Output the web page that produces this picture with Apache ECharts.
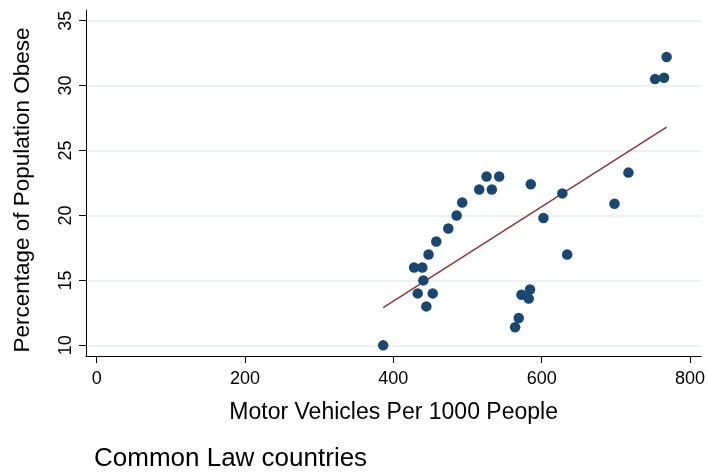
<!DOCTYPE html>
<html>
<head>
<meta charset="utf-8">
<script src="https://cdn.jsdelivr.net/npm/echarts@6/dist/echarts.min.js"></script>
<style>
html,body{margin:0;padding:0;background:#fff;}
#chart{width:708px;height:474px;}
</style>
</head>
<body>
<div id="chart"></div>
<script>
// Motor vehicles per 1000 people (x) and percentage of population obese (y)
const vehicles = [386.3, 428.0, 439.1, 440.5, 432.9, 453.1, 444.5, 447.5, 457.9, 474.1,
  485.4, 492.9, 515.8, 525.7, 532.8, 542.7, 564.2, 569.1, 572.8, 582.6,
  584.3, 585.3, 602.4, 627.9, 634.4, 698.2, 717.0, 752.9, 765.0, 768.5];
const obese = [10.0, 16.0, 16.0, 15.0, 14.0, 14.0, 13.0, 17.0, 18.0, 19.0,
  20.0, 21.0, 22.0, 23.0, 22.0, 23.0, 11.4, 12.1, 13.9, 13.6,
  14.3, 22.4, 19.8, 21.7, 17.0, 20.9, 23.3, 30.5, 30.6, 32.2];
// Fitted line endpoints
const fitX = [386.3, 768.5];
const fitY = [12.9, 26.8];
const xTicks = [0, 200, 400, 600, 800];
const yTicks = [10, 15, 20, 25, 30, 35];
const xTitle = 'Motor Vehicles Per 1000 People';
const yTitle = 'Percentage of Population Obese';
const noteText = 'Common Law countries';

const points = vehicles.map((v, i) => [v, obese[i]]);
const fit = fitX.map((v, i) => [v, fitY[i]]);
const font = '"Liberation Sans", Arial, Helvetica, sans-serif';

const chart = echarts.init(document.getElementById('chart'), null, {renderer: 'canvas'});
chart.setOption({
  animation: false,
  backgroundColor: '#ffffff',
  title: {
    text: noteText,
    left: 94, top: 446, padding: 0,
    textStyle: {fontFamily: font, fontSize: 26, fontWeight: 'normal', color: '#000'}
  },
  grid: {left: 86, right: 5, top: 10, bottom: 118, containLabel: false},
  xAxis: {
    type: 'value',
    min: -14.4, max: 815.2,
    name: xTitle, nameLocation: 'middle', nameGap: 45,
    nameTextStyle: {fontFamily: font, fontSize: 23, color: '#000'},
    axisLine: {show: true, onZero: false, lineStyle: {color: '#000', width: 1}},
    axisTick: {show: true, length: 7, customValues: xTicks, lineStyle: {color: '#000'}},
    axisLabel: {customValues: xTicks, fontFamily: font, fontSize: 18, color: '#000', margin: 14},
    splitLine: {show: false}
  },
  yAxis: {
    type: 'value',
    min: 9.18, max: 35.82,
    name: yTitle, nameLocation: 'middle', nameGap: 52,
    nameTextStyle: {fontFamily: font, fontSize: 22.5, color: '#000', padding: [0, 14, 0, 0]},
    axisLine: {show: true, onZero: false, lineStyle: {color: '#000', width: 1}},
    axisTick: {show: true, length: 7, customValues: yTicks, lineStyle: {color: '#000'}},
    axisLabel: {customValues: yTicks, rotate: 90, fontFamily: font, fontSize: 18, color: '#000', margin: 11},
    splitLine: {show: true, lineStyle: {color: '#e6eef0', width: 1.5}}
  },
  series: [
    {
      type: 'scatter',
      data: points,
      symbol: 'circle',
      symbolSize: 10.5,
      itemStyle: {color: '#1a476f', opacity: 1},
      z: 3
    },
    {
      type: 'line',
      data: fit,
      showSymbol: false,
      symbol: 'none',
      lineStyle: {color: '#90353b', width: 1.5},
      z: 2
    }
  ]
});
</script>
</body>
</html>
